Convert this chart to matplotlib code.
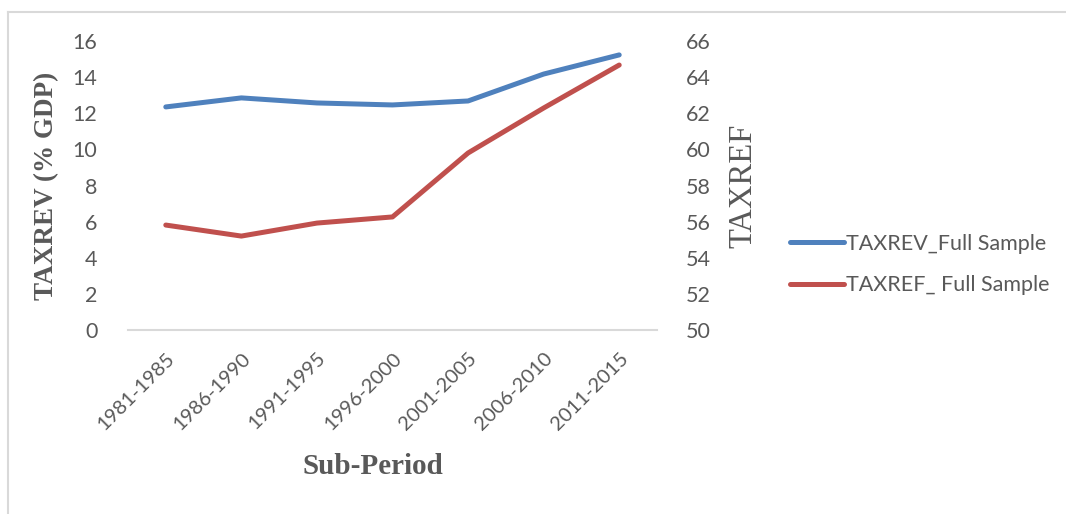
import matplotlib.pyplot as plt
from matplotlib.lines import Line2D

# Data
periods = ["1981-1985", "1986-1990", "1991-1995", "1996-2000",
           "2001-2005", "2006-2010", "2011-2015"]
taxrev = [12.35, 12.85, 12.57, 12.46, 12.68, 14.17, 15.23]
taxref = [55.81, 55.20, 55.92, 56.26, 59.80, 62.29, 64.67]

blue = "#4F81BD"
red = "#C0504D"
grey = "#595959"

plt.rcParams['font.family'] = ['Lato', 'DejaVu Sans']

fig = plt.figure(figsize=(10.66, 5.14), dpi=100)
ax = fig.add_axes([128 / 1066, 1 - 330 / 514, 529 / 1066, 289 / 514])
ax2 = ax.twinx()

x = range(len(periods))
l1, = ax.plot(x, taxrev, color=blue, lw=3.6, solid_capstyle='round')
l2, = ax2.plot(x, taxref, color=red, lw=3.6, solid_capstyle='round')

ax.set_xlim(-0.5, len(periods) - 0.5)
ax.set_ylim(0, 16)
ax.set_yticks(range(0, 17, 2))
ax2.set_ylim(50, 66)
ax2.set_yticks(range(50, 67, 2))

for a in (ax, ax2):
    for s in a.spines.values():
        s.set_visible(False)
    a.tick_params(length=0, labelsize=15.5, labelcolor=grey)
ax.spines['bottom'].set_visible(True)
ax.spines['bottom'].set_color("#D9D9D9")
ax.spines['bottom'].set_linewidth(1.5)
ax.tick_params(axis='y', pad=22)
ax2.tick_params(axis='y', pad=21)

ax.set_xticks(list(x))
ax.set_xticklabels(periods, rotation=45, ha='right', rotation_mode='anchor')
ax.tick_params(axis='x', pad=14, labelsize=14.5)

ax.set_ylabel("TAXREV (% GDP)", family='Liberation Serif', fontweight='bold',
              fontsize=19.5, color=grey)
ax.yaxis.set_label_coords(-0.13, 0.5)
ax2.set_ylabel("TAXREF", family='Liberation Serif', fontsize=23.5, color=grey,
               rotation=90)
ax2.yaxis.set_label_coords(1.134, 0.5)
ax.set_xlabel("Sub-Period", family='Liberation Serif', fontweight='bold',
              fontsize=21, color=grey, va='center')
ax.xaxis.set_label_coords(0.462, -0.474)

fig.legend([l1, l2], ["TAXREV_Full Sample", "TAXREF_ Full Sample"],
           loc='center left', bbox_to_anchor=(790 / 1066, 1 - 264.5 / 514),
           frameon=False, fontsize=15.5, labelcolor=grey, handlelength=2.5,
           handletextpad=0.12, labelspacing=1.0, borderpad=0, borderaxespad=0)

# light grey chart border (left and top)
border = "#D9D9D9"
fig.add_artist(Line2D([7.5 / 1066, 7.5 / 1066], [0, 1 - 11.5 / 514],
                      color=border, lw=1.5, transform=fig.transFigure))
fig.add_artist(Line2D([7.5 / 1066, 1], [1 - 11.5 / 514, 1 - 11.5 / 514],
                      color=border, lw=1.5, transform=fig.transFigure))

fig.savefig("out.png", dpi=100)
